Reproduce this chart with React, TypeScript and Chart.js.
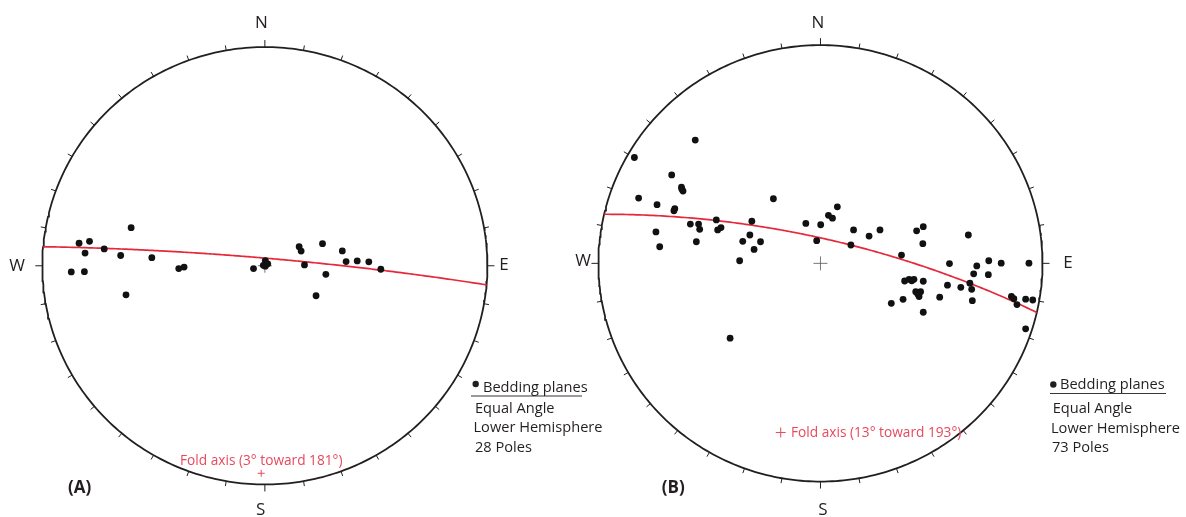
import React, { useEffect, useRef } from "react";
import { Chart, registerables } from "chart.js";

Chart.register(...registerables);

const PAGE_W = 1186;
const PAGE_H = 517;

// Poles to bedding, plotted position in units of the primitive radius (east, north)
const POLES_A_EAST = [
  -0.835, -0.788, -0.808, -0.722, -0.87, -0.811, -0.648, -0.601, -0.624, -0.508,
  -0.387, -0.363, -0.051, 0.002, -0.007, 0.013, 0.002, 0.154, 0.163, 0.259,
  0.178, 0.274, 0.23, 0.348, 0.365, 0.415, 0.467, 0.521,
];
const POLES_A_NORTH = [
  0.103, 0.112, 0.058, 0.077, -0.028, -0.027, 0.047, 0.174, -0.133, 0.037,
  -0.013, -0.006, -0.013, 0.024, 0.002, 0.009, -0.002, 0.087, 0.067, 0.101,
  0.004, -0.039, -0.137, 0.068, 0.019, 0.022, 0.018, -0.016,
];

const POLES_B_EAST = [
  -0.838, -0.564, -0.819, -0.67, -0.626, -0.619, -0.736, -0.656, -0.66, -0.741,
  -0.724, -0.586, -0.549, -0.544, -0.559, -0.469, -0.463, -0.448, -0.309, -0.318,
  -0.35, -0.27, -0.299, -0.364, -0.212, -0.407, -0.066, 0.001, -0.017, 0.036,
  0.054, 0.076, 0.149, 0.137, 0.219, 0.268, 0.365, 0.433, 0.463, 0.461,
  0.379, 0.399, 0.421, 0.463, 0.429, 0.451, 0.444, 0.319, 0.372, 0.463,
  0.537, 0.572, 0.581, 0.632, 0.666, 0.673, 0.681, 0.684, 0.69, 0.704,
  0.758, 0.756, 0.814, 0.86, 0.885, 0.924, 0.956, 0.939, 0.924, 0.411,
  0.438, 0.871, -0.624,
];
const POLES_B_NORTH = [
  0.485, 0.565, 0.299, 0.405, 0.349, 0.331, 0.269, 0.251, 0.241, 0.144,
  0.076, 0.18, 0.18, 0.156, 0.099, 0.199, 0.153, 0.164, 0.193, 0.13,
  0.101, 0.099, 0.064, 0.012, 0.296, -0.343, 0.183, 0.177, 0.104, 0.22,
  0.207, 0.259, 0.153, 0.084, 0.125, 0.153, 0.038, 0.149, 0.168, 0.09,
  -0.081, -0.073, -0.073, -0.082, -0.13, -0.13, -0.152, -0.183, -0.165, -0.224,
  -0.155, -0.1, -0.001, -0.11, 0.13, -0.091, -0.119, -0.171, -0.048, -0.012,
  0.012, -0.052, 0.001, -0.152, -0.189, -0.164, -0.168, 0.001, -0.3, -0.08,
  -0.14, -0.162, 0.34,
];

// Fold axes (plunge / trend, degrees) and the fitted girdles (strike / dip, right-hand rule)
const FOLD_PLUNGE = [3, 13];
const FOLD_TREND = [181, 193];
const GIRDLE_STRIKE = [275, 283];
const GIRDLE_DIP = [86, 77];
const POLE_COUNTS = [28, 73];
const PANEL_TAGS = ["(A)", "(B)"];
const COMPASS_LABELS = ["N", "E", "S", "W"];
const NET_LINES = ["Equal Angle", "Lower Hemisphere"];
const LEGEND_ENTRY = "Bedding planes";

const D2R = Math.PI / 180;
const INK = "#231f20";
const RED_LINE = "#e5283a";
const RED_TEXT = "#e8485c";
const FONT = '"Open Sans", "Noto Sans", sans-serif';

// Equal-angle (Wulff) projection, lower hemisphere
function project(trend: number, plunge: number) {
  const r = Math.tan(((90 - plunge) / 2) * D2R);
  return { x: r * Math.sin(trend * D2R), y: r * Math.cos(trend * D2R) };
}

function greatCircle(strike: number, dip: number) {
  const s = strike * D2R;
  const d = dip * D2R;
  const dd = s + Math.PI / 2;
  const sv = [Math.sin(s), Math.cos(s), 0];
  const dv = [Math.sin(dd) * Math.cos(d), Math.cos(dd) * Math.cos(d), Math.sin(d)];
  const pts: { x: number; y: number }[] = [];
  for (let a = 0; a <= 180; a += 1) {
    const ca = Math.cos(a * D2R);
    const sa = Math.sin(a * D2R);
    const e = ca * sv[0] + sa * dv[0];
    const n = ca * sv[1] + sa * dv[1];
    const dn = Math.max(0, Math.min(1, ca * sv[2] + sa * dv[2]));
    pts.push(project(Math.atan2(e, n) / D2R, Math.asin(dn) / D2R));
  }
  return pts;
}

function primitive() {
  const pts: { x: number; y: number }[] = [];
  for (let a = 0; a <= 360; a += 1) pts.push({ x: Math.sin(a * D2R), y: Math.cos(a * D2R) });
  return pts;
}

type Layout = {
  cx: number;
  cy: number;
  r: number;
  compass: [number, number][];
  legendX: number;
  bullet: [number, number];
  entryBase: number;
  rule: [number, number, number];
  lineX: number[];
  lineBase: number[];
  foldText: [number, number];
  foldFont: number;
  tag: [number, number];
  crossRadius: number;
};

const LAYOUTS: Layout[] = [
  {
    cx: 260.5,
    cy: 266,
    r: 225.5,
    compass: [
      [261.5, 23],
      [504, 265],
      [260.7, 510],
      [17, 266],
    ],
    legendX: 483,
    bullet: [475.7, 384],
    entryBase: 392,
    rule: [471, 582, 396],
    lineX: [475, 473.5, 475],
    lineBase: [413, 431.5, 451.5],
    foldText: [180, 465],
    foldFont: 13.7,
    tag: [68, 488],
    crossRadius: 3.5,
  },
  {
    cx: 823.5,
    cy: 263.5,
    r: 225,
    compass: [
      [818, 23],
      [1068, 263],
      [823, 510],
      [583, 261],
    ],
    legendX: 1060,
    bullet: [1053.3, 384.5],
    entryBase: 389,
    rule: [1050, 1166, 393.5],
    lineX: [1052.7, 1051, 1052],
    lineBase: [413, 432.7, 452],
    foldText: [791, 437],
    foldFont: 13.7,
    tag: [661.7, 488],
    crossRadius: 5,
  },
];

function makeOverlay(i: number) {
  const L = LAYOUTS[i];
  return {
    id: "netOverlay" + i,
    afterDraw(chart: any) {
      const ctx = chart.ctx as CanvasRenderingContext2D;
      const xs = chart.scales.x;
      const ys = chart.scales.y;
      ctx.save();
      // 10-degree ticks round the primitive
      ctx.strokeStyle = INK;
      ctx.lineWidth = 1;
      for (let az = 0; az < 360; az += 10) {
        const ux = Math.sin(az * D2R);
        const uy = Math.cos(az * D2R);
        const px = xs.getPixelForValue(ux);
        const py = ys.getPixelForValue(uy);
        const len = az % 90 === 0 ? 7 : 5;
        ctx.beginPath();
        ctx.moveTo(px, py);
        ctx.lineTo(px + ux * len, py - uy * len);
        ctx.stroke();
      }
      // compass letters
      ctx.fillStyle = INK;
      ctx.font = `17px ${FONT}`;
      ctx.textAlign = "center";
      ctx.textBaseline = "middle";
      COMPASS_LABELS.forEach((t, k) => {
        ctx.fillText(t, L.compass[k][0], L.compass[k][1]);
      });
      // legend
      ctx.beginPath();
      ctx.arc(L.bullet[0], L.bullet[1], 3.2, 0, Math.PI * 2);
      ctx.fill();
      ctx.textAlign = "left";
      ctx.textBaseline = "alphabetic";
      ctx.font = `14.6px ${FONT}`;
      ctx.fillText(LEGEND_ENTRY, L.legendX, L.entryBase);
      ctx.beginPath();
      ctx.lineWidth = 0.9;
      ctx.moveTo(L.rule[0], L.rule[2]);
      ctx.lineTo(L.rule[1], L.rule[2]);
      ctx.stroke();
      const lines = [...NET_LINES, `${POLE_COUNTS[i]} Poles`];
      lines.forEach((t, k) => ctx.fillText(t, L.lineX[k], L.lineBase[k]));
      // fold axis caption
      ctx.fillStyle = RED_TEXT;
      ctx.font = `${L.foldFont}px ${FONT}`;
      ctx.fillText(
        `Fold axis (${FOLD_PLUNGE[i]}\u00b0 toward ${FOLD_TREND[i]}\u00b0)`,
        L.foldText[0],
        L.foldText[1]
      );
      // panel tag
      ctx.fillStyle = INK;
      ctx.font = `bold 17px ${FONT}`;
      ctx.textBaseline = "middle";
      ctx.fillText(PANEL_TAGS[i], L.tag[0], L.tag[1]);
      ctx.restore();
    },
  };
}

function buildConfig(i: number): any {
  const L = LAYOUTS[i];
  const eastArr = i === 0 ? POLES_A_EAST : POLES_B_EAST;
  const northArr = i === 0 ? POLES_A_NORTH : POLES_B_NORTH;
  const poles = eastArr.map((x, k) => ({ x, y: northArr[k] }));
  const axis = project(FOLD_TREND[i], FOLD_PLUNGE[i]);
  return {
    type: "scatter",
    data: {
      datasets: [
        {
          label: "Bedding poles",
          data: poles,
          pointRadius: 3.4,
          pointBackgroundColor: "#111",
          pointBorderWidth: 0,
          showLine: false,
        },
        {
          label: "Fold axis",
          data: [axis],
          pointStyle: "cross",
          pointRadius: L.crossRadius,
          pointBorderColor: RED_TEXT,
          pointBorderWidth: 1,
          showLine: false,
        },
        {
          label: "Girdle",
          data: greatCircle(GIRDLE_STRIKE[i], GIRDLE_DIP[i]),
          showLine: true,
          borderColor: RED_LINE,
          borderWidth: 1.7,
          pointRadius: 0,
          tension: 0,
        },
        {
          label: "Centre",
          data: [{ x: 0, y: 0 }],
          pointStyle: "cross",
          pointRadius: 7,
          pointBorderColor: "#555",
          pointBorderWidth: 0.8,
          showLine: false,
        },
        {
          label: "Primitive",
          data: primitive(),
          showLine: true,
          borderColor: INK,
          borderWidth: 1.8,
          pointRadius: 0,
          tension: 0,
        },
      ],
    },
    options: {
      animation: false,
      responsive: false,
      maintainAspectRatio: false,
      events: [],
      layout: { padding: 0 },
      plugins: { legend: { display: false }, tooltip: { enabled: false } },
      scales: {
        x: { type: "linear", display: false, min: -L.cx / L.r, max: (PAGE_W - L.cx) / L.r },
        y: { type: "linear", display: false, min: -(PAGE_H - L.cy) / L.r, max: L.cy / L.r },
      },
    },
    plugins: [makeOverlay(i)],
  };
}

function Net({ index }: { index: number }) {
  const ref = useRef<HTMLCanvasElement | null>(null);
  useEffect(() => {
    if (!ref.current) return;
    const chart = new Chart(ref.current, buildConfig(index));
    return () => chart.destroy();
  }, [index]);
  return (
    <canvas
      ref={ref}
      width={PAGE_W}
      height={PAGE_H}
      style={{ position: "absolute", left: 0, top: 0, width: PAGE_W, height: PAGE_H }}
    />
  );
}

export default function App() {
  return (
    <div
      style={{
        position: "fixed",
        left: 0,
        top: 0,
        width: PAGE_W,
        height: PAGE_H,
        overflow: "hidden",
        background: "#ffffff",
      }}
    >
      <Net index={0} />
      <Net index={1} />
    </div>
  );
}
